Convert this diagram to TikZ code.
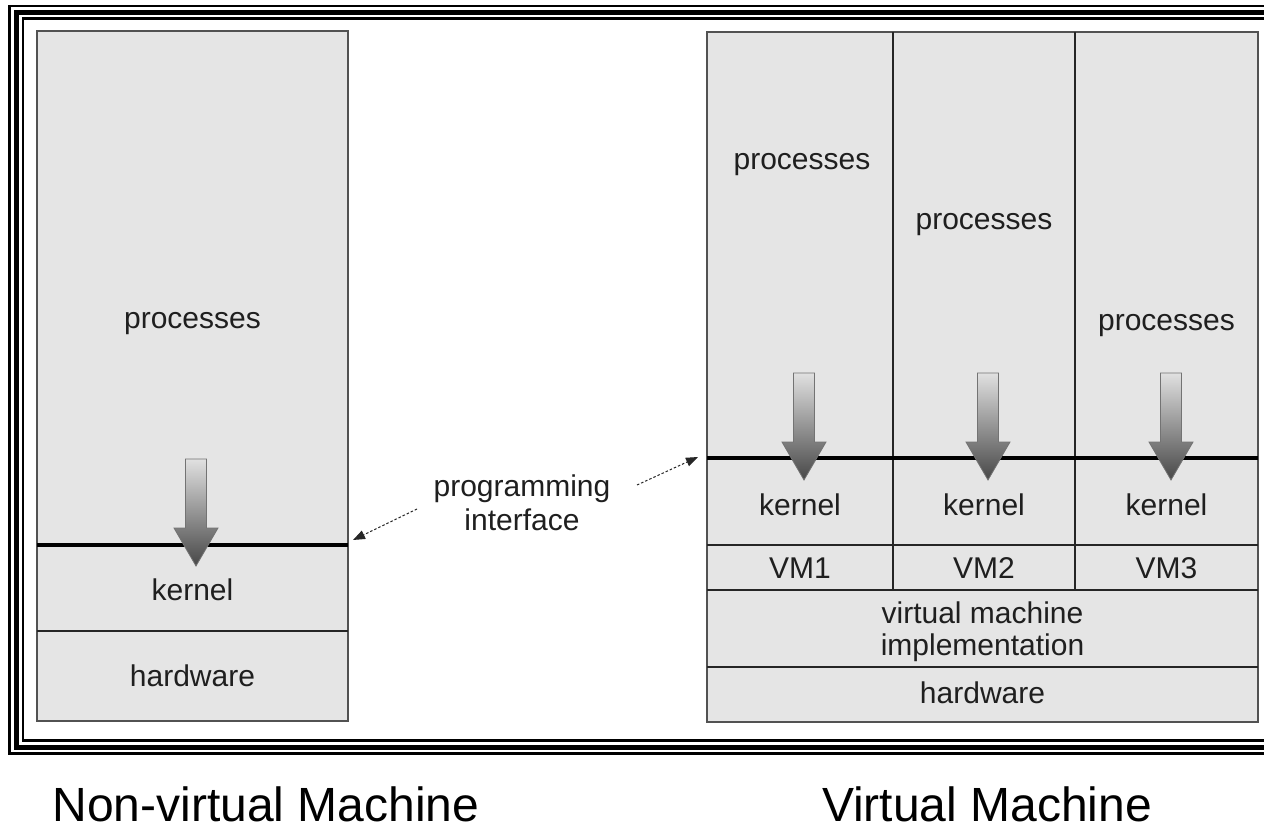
\documentclass[tikz,border=0pt]{standalone}
\usepackage{fontspec}
\setmainfont{Liberation Sans}
\usetikzlibrary{arrows.meta}
\tikzset{
  layerbox/.style={fill=black!10, draw=black!68, line width=2.4pt},
  divline/.style={draw=black!85, line width=1.4pt},
  apiline/.style={draw=black, line width=4pt},
  framethin/.style={draw=black, line width=2.6pt},
  framethick/.style={draw=black, line width=5pt},
  lbl/.style={font=\fontsize{30}{34}\selectfont, text=black!88, anchor=base, inner sep=0pt, align=center},
  caption/.style={font=\fontsize{48}{54}\selectfont, text=black, anchor=base, inner sep=0pt},
  blockarrow/.style={shading=axis, top color=black!12, bottom color=black!72, draw=black!55, line width=0.8pt},
  dasharrow/.style={draw=black!85, line width=1pt, dash pattern=on 2.5pt off 2pt, -{Triangle[length=12pt,width=9pt]}},
}
\newcommand\downblock[2]{%
  \path[blockarrow] (#1-10.5,#2) -- (#1+10.5,#2) -- (#1+10.5,#2+69) -- (#1+22,#2+69)
    -- (#1,#2+107) -- (#1-22,#2+69) -- (#1-10.5,#2+69) -- cycle;}
\begin{document}
\begin{tikzpicture}[x=1pt,y=-1pt]
\useasboundingbox (0,0) rectangle (1264,829);
\clip (0,0) rectangle (1264,829);
\fill[white] (0,0) rectangle (1264,829);
% triple frame
\draw[framethin] (9.5,6) rectangle (1300,753.5);
\draw[framethick] (16.5,12.5) rectangle (1300,747.5);
\draw[framethin] (23,18.8) rectangle (1300,740.5);
% left machine
\draw[layerbox] (37,31) rectangle (348,721);
\draw[divline] (37,631) -- (348,631);
\draw[apiline] (37,545) -- (348,545);
% right machine
\draw[layerbox] (707,32) rectangle (1258,722);
\draw[divline] (893,32) -- (893,590);
\draw[divline] (1075,32) -- (1075,590);
\draw[divline] (707,545) -- (1258,545);
\draw[divline] (707,590) -- (1258,590);
\draw[divline] (707,667) -- (1258,667);
\draw[apiline] (707,458) -- (1258,458);
% block arrows
\downblock{196}{459}
\downblock{804}{373}
\downblock{988}{373}
\downblock{1171}{373}
% labels left
\node[lbl] (lproc) at (192.5,328) {processes};
\node[lbl] (lkern) at (192.5,600) {kernel};
\node[lbl] (lhw) at (192.5,686) {hardware};
% labels right
\node[lbl] (p1) at (802,170) {processes};
\node[lbl] (p2) at (984,230) {processes};
\node[lbl] (p3) at (1166.5,330) {processes};
\node[lbl] (k1) at (800,515) {kernel};
\node[lbl] (k2) at (984,515) {kernel};
\node[lbl] (k3) at (1166.5,515) {kernel};
\node[lbl] (vm1) at (800,578) {VM1};
\node[lbl] (vm2) at (984,578) {VM2};
\node[lbl] (vm3) at (1166.5,578) {VM3};
\node[lbl] (vmi1) at (982.5,623) {virtual machine};
\node[lbl] (vmi2) at (982.5,655) {implementation};
\node[lbl] (rhw) at (982.5,703) {hardware};
% programming interface
\node[lbl] (pi1) at (522,496) {programming};
\node[lbl] (pi2) at (522,530) {interface};
\coordinate (lstart) at (417,509);
\coordinate (ltip) at (353,540);
\coordinate (rstart) at (637,485);
\coordinate (rtip) at (698,457);
\draw[dasharrow] (lstart) -- (ltip);
\draw[dasharrow] (rstart) -- (rtip);
% captions
\node[caption] (c1) at (266,821) {Non-virtual Machine};
\node[caption] (c2) at (987,821) {Virtual Machine};
\end{tikzpicture}
\end{document}
